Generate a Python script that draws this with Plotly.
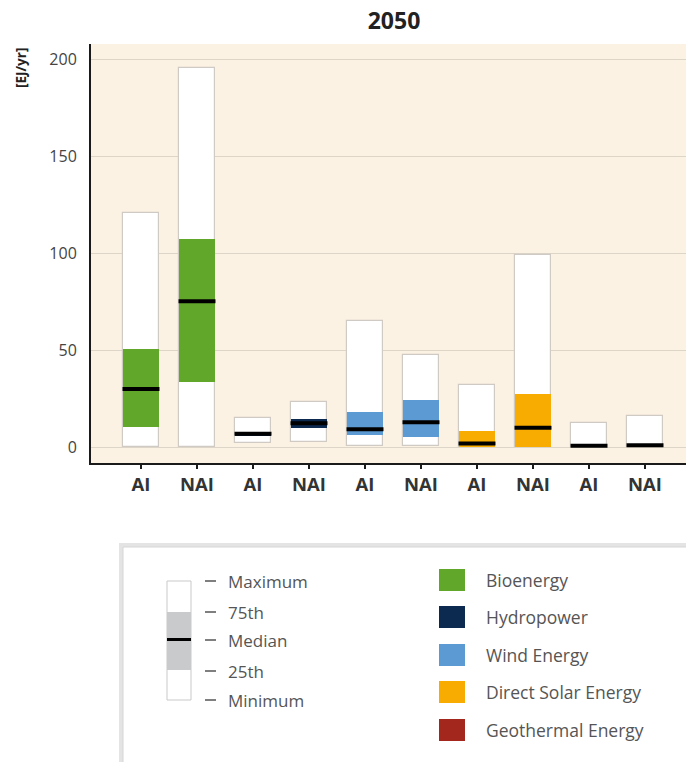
import plotly.graph_objects as go

# ---- data: 2050 ranges of renewable primary energy supply [EJ/yr] ----
categories = ["AI", "NAI", "AI", "NAI", "AI", "NAI", "AI", "NAI", "AI", "NAI"]
technologies = ["Bioenergy", "Hydropower", "Wind Energy",
                "Direct Solar Energy", "Geothermal Energy"]
tech_colors = ["#61a82a", "#0c2a50", "#5b9ad3", "#f8ab00", "#a3271d"]

minimum = [0, 0, 2, 2.9, 0.7, 0.5, 0, 0, 0, 0]
p25 = [10.3, 33.7, 6, 10.1, 6.3, 5.5, 0.4, 0, 0.2, 0.3]
median = [30, 75.3, 7, 12.4, 9.3, 12.9, 1.9, 10.1, 0.8, 1.0]
p75 = [50.5, 107.2, 8, 14.6, 18.4, 24.4, 8.6, 27.5, 1.3, 1.6]
maximum = [120.6, 195.4, 15.3, 23.5, 65.3, 47.7, 32.1, 99.3, 12.4, 16.1]

legend_keys = ["Maximum", "75th", "Median", "25th", "Minimum"]

# ---- geometry helpers (pixel -> paper) ----
W, H = 686, 762
ML, MR, MT, MB = 91, 0, 44, 299
PW, PH = W - ML - MR, H - MT - MB

FONT = "Open Sans"


def px(x):
    return (x - ML) / PW


def py(y):
    return (H - MB - y) / PH


xs = list(range(len(categories)))
bar_w = 0.66
fig = go.Figure()

# full range (min..max) bars
fig.add_trace(go.Bar(
    x=xs, y=[mx - mn for mx, mn in zip(maximum, minimum)], base=minimum,
    width=bar_w, marker=dict(color="white", line=dict(color="#cfcbc4", width=1.2)),
    showlegend=False, hoverinfo="skip"))

# interquartile bars, coloured by technology
iqr_colors = [tech_colors[i // 2] for i in xs]
fig.add_trace(go.Bar(
    x=xs, y=[b - a for a, b in zip(p25, p75)], base=p25,
    width=bar_w, marker=dict(color=iqr_colors, line=dict(width=0)),
    showlegend=False, hoverinfo="skip"))

# median lines
mx_, my_ = [], []
for i, m in zip(xs, median):
    mx_ += [i - bar_w / 2, i + bar_w / 2, None]
    my_ += [m, m, None]
fig.add_trace(go.Scatter(x=mx_, y=my_, mode="lines",
                         line=dict(color="black", width=4),
                         showlegend=False, hoverinfo="skip"))

shapes = []
annotations = []

# legend panel
shapes.append(dict(type="rect", xref="paper", yref="paper",
                   x0=px(121), x1=px(705), y0=py(545), y1=py(790),
                   line=dict(color="#e4e4e4", width=4), fillcolor="white"))
shapes.append(dict(type="rect", xref="paper", yref="paper",
                   x0=px(123), x1=px(705), y0=py(547), y1=py(790),
                   line=dict(color="#d6d6d6", width=1), fillcolor="white"))

# percentile key
shapes.append(dict(type="rect", xref="paper", yref="paper",
                   x0=px(167), x1=px(191), y0=py(581), y1=py(700),
                   line=dict(color="#c9c9c9", width=1), fillcolor="white"))
shapes.append(dict(type="rect", xref="paper", yref="paper",
                   x0=px(167), x1=px(191), y0=py(612), y1=py(670),
                   line=dict(width=0), fillcolor="#c8cacc"))
shapes.append(dict(type="line", xref="paper", yref="paper",
                   x0=px(167), x1=px(191), y0=py(639.5), y1=py(639.5),
                   line=dict(color="black", width=3)))
key_y = [581, 612, 640, 671, 700]
for lab, yk in zip(legend_keys, key_y):
    shapes.append(dict(type="line", xref="paper", yref="paper",
                       x0=px(205), x1=px(216), y0=py(yk), y1=py(yk),
                       line=dict(color="#555555", width=1.5)))
    annotations.append(dict(text=lab, xref="paper", yref="paper",
                            x=px(226), y=py(yk), xanchor="left", yanchor="middle",
                            showarrow=False,
                            font=dict(family=FONT, size=17, color="#555555")))

# technology colour key
sw_y = [580, 617, 655, 692, 730]
for name, col, yk in zip(technologies, tech_colors, sw_y):
    shapes.append(dict(type="rect", xref="paper", yref="paper",
                       x0=px(439), x1=px(465), y0=py(yk - 11), y1=py(yk + 11),
                       line=dict(width=0), fillcolor=col))
    annotations.append(dict(text=name, xref="paper", yref="paper",
                            x=px(484), y=py(yk), xanchor="left", yanchor="middle",
                            showarrow=False,
                            font=dict(family=FONT, size=17.5, color="#555555")))

# unit label
annotations.append(dict(text="<b>[EJ/yr]</b>", xref="paper", yref="paper",
                        x=px(21), y=py(68), textangle=-90, showarrow=False,
                        xanchor="center", yanchor="middle",
                        font=dict(family=FONT, size=13.5, color="#222222")))

fig.update_layout(
    width=W, height=H,
    margin=dict(l=ML, r=MR, t=MT, b=MB),
    paper_bgcolor="white", plot_bgcolor="#fcf2e3",
    barmode="overlay", bargap=0,
    title=dict(text="<b>2050</b>", xref="paper", x=px(394), xanchor="center",
               yref="container", y=1 - 21 / H, yanchor="middle",
               font=dict(family=FONT, size=23, color="#222222")),
    xaxis=dict(range=[-0.893, 9.732], tickmode="array", tickvals=xs,
               ticktext=categories, showline=True, linecolor="#1a1a1a",
               linewidth=2, ticks="outside", ticklen=4, tickwidth=2,
               tickcolor="#1a1a1a", showgrid=False, zeroline=False,
               tickfont=dict(family=FONT, size=18.5, color="#333333",
                             weight="bold")),
    yaxis=dict(range=[-8.1, 207.9], tickmode="array",
               tickvals=[0, 50, 100, 150, 200], showline=True,
               linecolor="#1a1a1a", linewidth=2, ticks="outside", ticklen=9,
               tickcolor="rgba(0,0,0,0)", gridcolor="#ddd5c8", gridwidth=1,
               zeroline=False,
               tickfont=dict(family=FONT, size=16, color="#444444")),
    shapes=shapes, annotations=annotations,
)

fig.write_html("out.html")
